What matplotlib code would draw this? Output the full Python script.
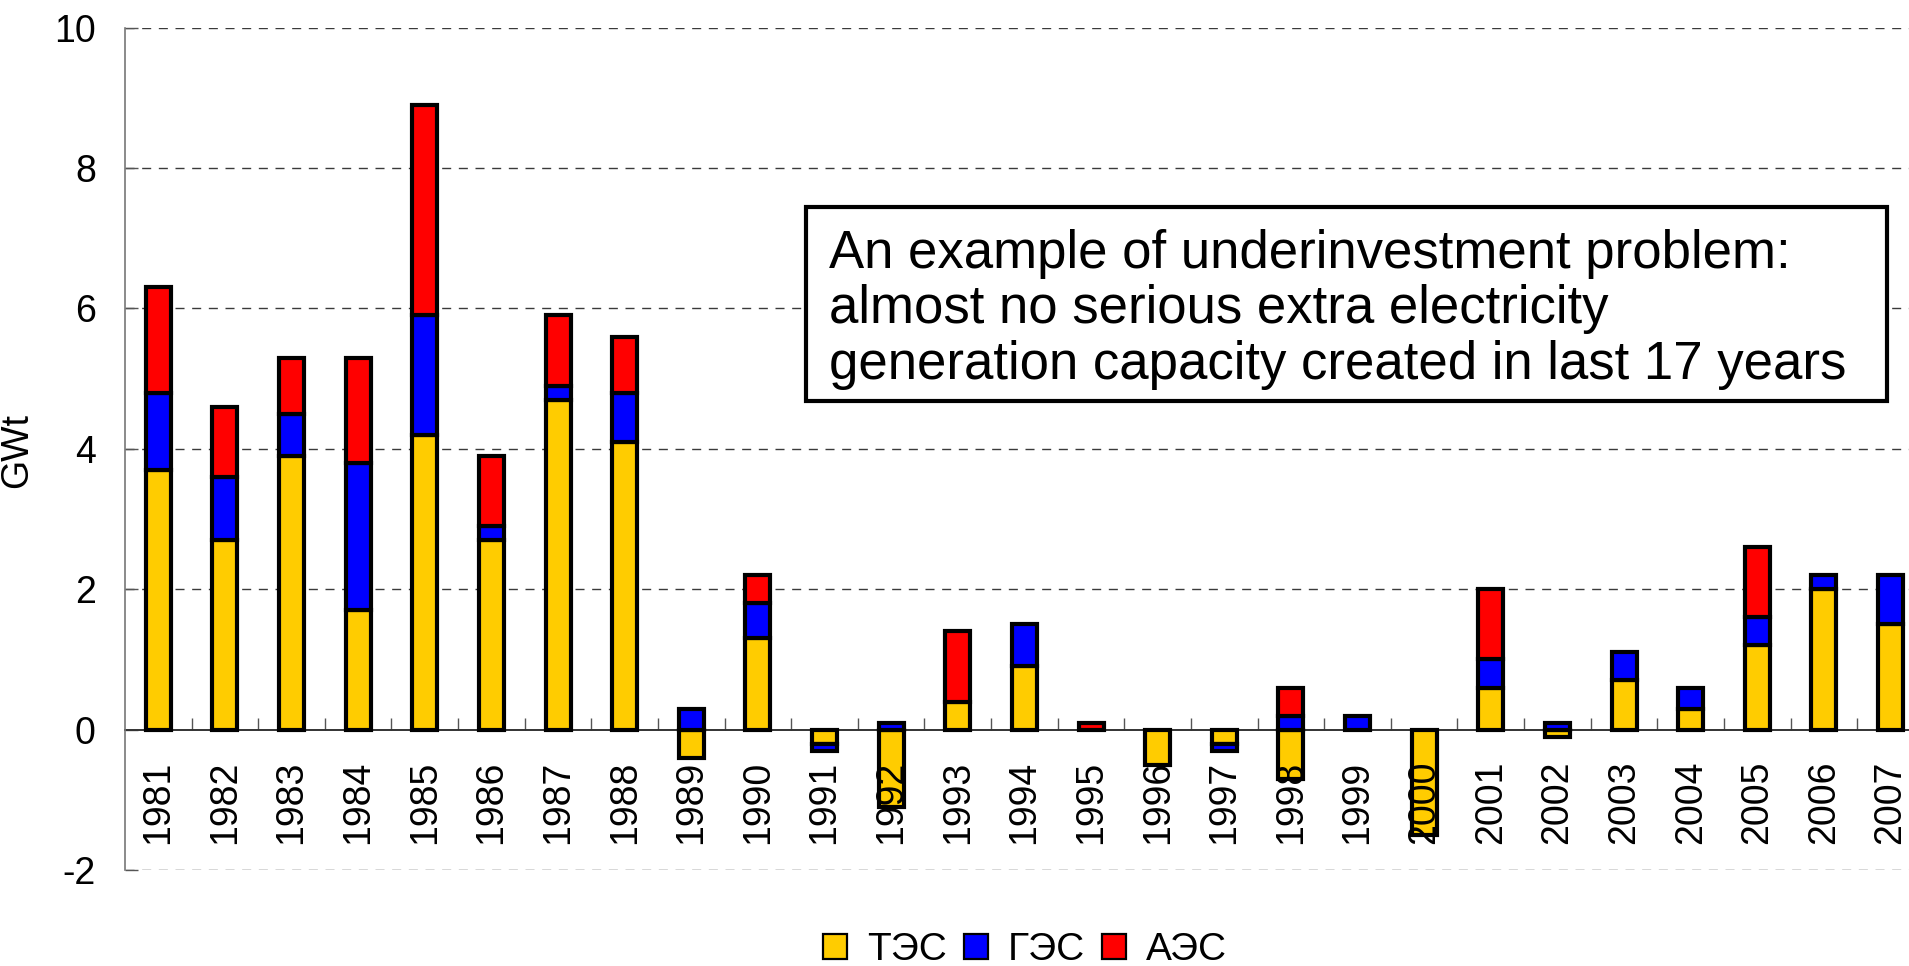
import matplotlib
matplotlib.use("Agg")
import matplotlib.pyplot as plt
from matplotlib.transforms import offset_copy
from matplotlib.patches import Rectangle, Patch

plt.rcParams["font.family"] = ["Liberation Sans", "DejaVu Sans"]
plt.rcParams["lines.scale_dashes"] = False
plt.rcParams["axes.unicode_minus"] = False

# Annual net change of generating capacity, GW
years = ["1981", "1982", "1983", "1984", "1985", "1986", "1987", "1988", "1989",
         "1990", "1991", "1992", "1993", "1994", "1995", "1996", "1997", "1998",
         "1999", "2000", "2001", "2002", "2003", "2004", "2005", "2006", "2007"]
tes = [3.7, 2.7, 3.9, 1.7, 4.2, 2.7, 4.7, 4.1, -0.4, 1.3, -0.2, -1.1, 0.4, 0.9,
       0.0, -0.5, -0.2, -0.7, 0.0, -1.5, 0.6, -0.1, 0.7, 0.3, 1.2, 2.0, 1.5]
ges = [1.1, 0.9, 0.6, 2.1, 1.7, 0.2, 0.2, 0.7, 0.3, 0.5, -0.1, 0.1, 0.0, 0.6,
       0.0, 0.0, -0.1, 0.2, 0.2, 0.0, 0.4, 0.1, 0.4, 0.3, 0.4, 0.2, 0.7]
aes = [1.5, 1.0, 0.8, 1.5, 3.0, 1.0, 1.0, 0.8, 0.0, 0.4, 0.0, 0.0, 1.0, 0.0,
       0.1, 0.0, 0.0, 0.4, 0.0, 0.0, 1.0, 0.0, 0.0, 0.0, 1.0, 0.0, 0.0]

series = [("ТЭС", tes, "#FFCC00"), ("ГЭС", ges, "#0000FF"), ("АЭС", aes, "#FF0000")]
note_lines = ["An example of underinvestment problem:",
              "almost no serious extra electricity",
              "generation capacity created in last 17 years"]

W, H = 1909, 966
fig = plt.figure(figsize=(W / 100, H / 100), dpi=100)
ax = fig.add_axes([125 / W, 1 - 870 / H, 1 - 125 / W, (870 - 27.7) / H])

n = len(years)
xs = list(range(n))
bar_w = 0.375
pos_base = [0.0] * n
neg_base = [0.0] * n
for name, vals, color in series:
    for i, v in enumerate(vals):
        if v == 0:
            continue
        base = pos_base[i] if v > 0 else neg_base[i]
        ax.bar(xs[i], v, bottom=base, width=bar_w, color=color,
               edgecolor="black", linewidth=3.0, zorder=3)
        if v > 0:
            pos_base[i] += v
        else:
            neg_base[i] += v

ax.set_xlim(-0.5, (W - 125) / ((1890.5 - 158.3) / 26) - 0.5)
ax.set_ylim(-2, 10)
ax.set_yticks([-2, 0, 2, 4, 6, 8, 10])
ax.tick_params(axis="y", direction="in", length=9, width=1, color="#555555",
               labelsize=27, pad=21)

# category separators on the zero line
ax.set_xticks([i + 0.5 for i in range(n - 1)])
ax.set_xticklabels([])
ax.tick_params(axis="x", direction="in", length=9, width=1, color="#555555")

ax.spines["top"].set_visible(False)
ax.spines["right"].set_visible(False)
ax.spines["bottom"].set_position(("data", 0))
ax.spines["bottom"].set_color("#333333")
ax.spines["bottom"].set_linewidth(1.4)
ax.spines["bottom"].set_zorder(2)
ax.spines["left"].set_color("#777777")
ax.spines["left"].set_linewidth(1.2)

for yv in [-2, 2, 4, 6, 8, 10]:
    ax.axhline(yv, color="#3a3a3a", linewidth=1.0, linestyle=(0, (6.5, 5.5)),
               zorder=1)

label_tr = offset_copy(ax.transData, fig=fig, x=0, y=-31, units="dots")
for i, yr in enumerate(years):
    ax.text(xs[i], 0, yr, rotation=90, ha="center", va="top", fontsize=27,
            transform=label_tr, zorder=6)

fig.text(17.5 / W, 1 - 450 / H, "GWt", rotation=90, ha="center", va="center",
         fontsize=27)

# note box
box_l, box_t, box_r, box_b = 806, 207, 1887, 401
fig.patches.append(Rectangle((box_l / W, 1 - box_b / H), (box_r - box_l) / W,
                             (box_b - box_t) / H, transform=fig.transFigure,
                             facecolor="white", edgecolor="black",
                             linewidth=3.0, zorder=5))
for k, line in enumerate(note_lines):
    fig.text(829 / W, 1 - (268 + 55.5 * k) / H, line, ha="left", va="baseline",
             fontsize=38, zorder=6)

handles = [Patch(facecolor=c, edgecolor="black", linewidth=1.6) for _, _, c in series]
fig.legend(handles, [s[0] for s in series], loc="center",
           bbox_to_anchor=(1025 / W, 1 - 950 / H), ncol=3, frameon=False,
           fontsize=28, handlelength=0.62, handleheight=0.62,
           handletextpad=0.5, columnspacing=0.45, borderpad=0, borderaxespad=0)

fig.savefig("out.png", dpi=100)
